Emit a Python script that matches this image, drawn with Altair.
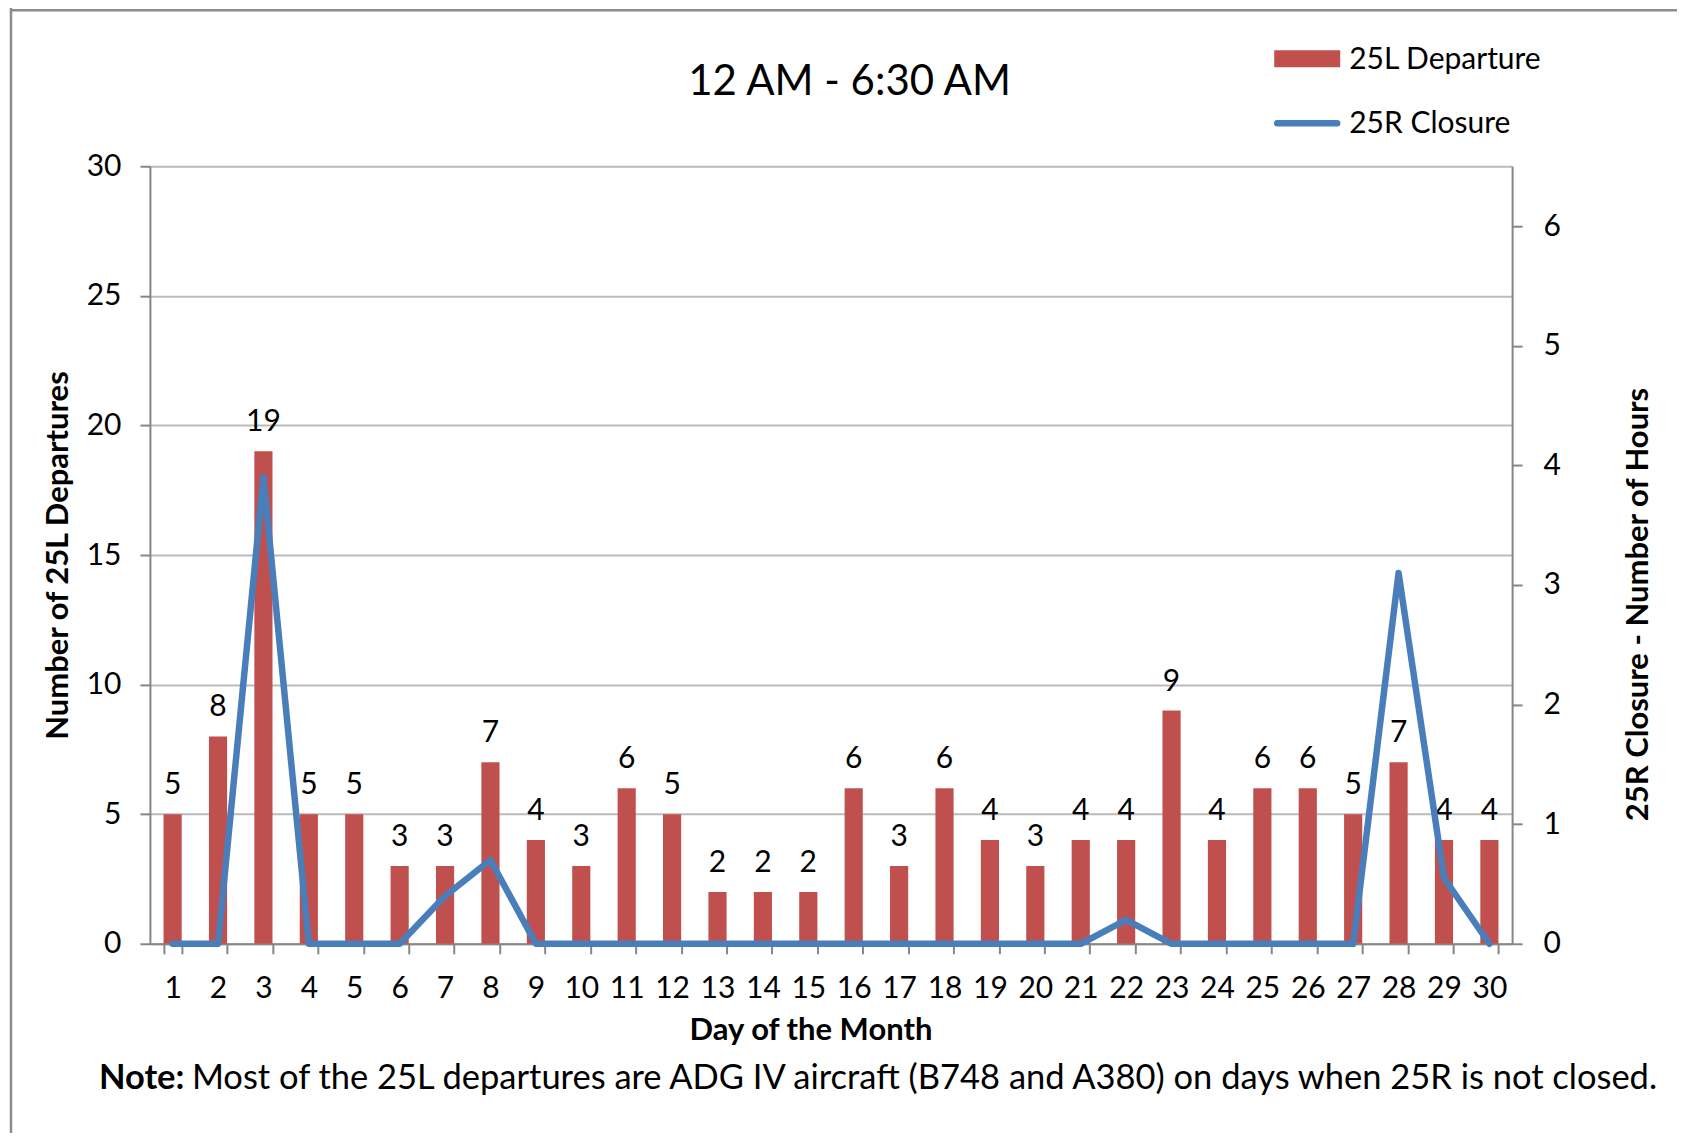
import altair as alt
import pandas as pd

# ---- data ----
days = list(range(1, 31))
departures = [5, 8, 19, 5, 5, 3, 3, 7, 4, 3, 6, 5, 2, 2, 2, 6, 3, 6, 4, 3,
              4, 4, 9, 4, 6, 6, 5, 7, 4, 4]
closure_hours = [0, 0, 3.9, 0, 0, 0, 0.4, 0.7, 0, 0, 0, 0, 0, 0, 0, 0, 0, 0,
                 0, 0, 0, 0.2, 0, 0, 0, 0, 0, 3.1, 0.55, 0]
left_ticks = [0, 5, 10, 15, 20, 25, 30]
right_ticks = [0, 1, 2, 3, 4, 5, 6]

chart_title = "12 AM - 6:30 AM"
x_title = "Day of the Month"
y_left_title = "Number of 25L Departures"
y_right_title = "25R Closure - Number of Hours"
legend_labels = ["25L Departure", "25R Closure"]
note_bold = "Note:"
note_text = "Most of the 25L departures are ADG IV aircraft (B748 and A380) on days when 25R is not closed."

df = pd.DataFrame({"day": days, "dep": departures, "hrs": closure_hours})

W, H = 1363, 778
BAR = "#C0504D"
LINE = "#4A7EBB"
AXIS = "#868686"
GRID = "#BBBBBB"
FONT = "Lato"

one = alt.Data(values=[{"k": 0}])

x_enc = alt.X(
    "day:O",
    scale=alt.Scale(paddingInner=0.6, paddingOuter=0.3),
    axis=alt.Axis(
        title=x_title, labelAngle=0, tickBand="extent", grid=False,
        domainColor=AXIS, domainWidth=2, tickColor=AXIS, tickWidth=2, tickSize=10,
        labelFontSize=30, labelPadding=20, labelColor="black", labelFont=FONT,
        titleFontSize=31, titleFontWeight="bold", titleFont=FONT, titleColor="black",
        titleX=661, titleY=87, titleAlign="center", titleBaseline="middle", titleAnchor="start",
    ),
)

bars = alt.Chart(df).mark_bar(color=BAR).encode(
    x=x_enc,
    y=alt.Y(
        "dep:Q",
        scale=alt.Scale(domain=[0, 30], nice=False),
        axis=alt.Axis(
            values=left_ticks, orient="left", grid=True, gridColor=GRID, gridWidth=2,
            domainColor=AXIS, domainWidth=2, tickColor=AXIS, tickWidth=2, tickSize=10,
            labelFontSize=30, labelPadding=19, labelColor="black", labelFont=FONT,
            title=y_left_title, titleFontSize=31, titleFontWeight="bold", titleFont=FONT,
            titleColor="black", titleAngle=270, titleX=-91, titleY=389,
            titleAlign="center", titleBaseline="middle",
        ),
    ),
)

labels = alt.Chart(df).mark_text(
    dy=-29, baseline="middle", fontSize=30, font=FONT, color="black"
).encode(x=alt.X("day:O"), y=alt.Y("dep:Q"), text=alt.Text("dep:Q"))

left_layer = alt.layer(bars, labels)

line = alt.Chart(df).mark_line(
    color=LINE, strokeWidth=6.5, strokeCap="round", strokeJoin="round"
).encode(
    x=alt.X("day:O"),
    y=alt.Y(
        "hrs:Q",
        scale=alt.Scale(domain=[0, 6.5], nice=False),
        axis=alt.Axis(
            values=right_ticks, orient="right", grid=False,
            domainColor=AXIS, domainWidth=2, tickColor=AXIS, tickWidth=2, tickSize=10,
            labelFontSize=30, labelPadding=21, labelColor="black", labelFont=FONT,
            title=y_right_title, titleFontSize=31, titleFontWeight="bold", titleFont=FONT,
            titleColor="black", titleAngle=270, titleX=126, titleY=438,
            titleAlign="center", titleBaseline="middle",
        ),
    ),
)

title_mark = alt.Chart(one).mark_text(
    fontSize=42, font=FONT, color="black", align="center", baseline="middle"
).encode(x=alt.value(700), y=alt.value(-84), text=alt.value(chart_title))

leg_rect = alt.Chart(one).mark_rect(color=BAR).encode(
    x=alt.value(1125), x2=alt.value(1191), y=alt.value(-116), y2=alt.value(-99)
)
leg_line = alt.Chart(one).mark_rule(color=LINE, strokeWidth=6.5, strokeCap="round").encode(
    x=alt.value(1128), x2=alt.value(1188), y=alt.value(-43)
)
leg_t1 = alt.Chart(one).mark_text(
    fontSize=30, font=FONT, color="black", align="left", baseline="middle"
).encode(x=alt.value(1200), y=alt.value(-106), text=alt.value(legend_labels[0]))
leg_t2 = alt.Chart(one).mark_text(
    fontSize=30, font=FONT, color="black", align="left", baseline="middle"
).encode(x=alt.value(1200), y=alt.value(-42), text=alt.value(legend_labels[1]))

note1 = alt.Chart(one).mark_text(
    fontSize=34.5, font=FONT, fontWeight="bold", color="black", align="left", baseline="middle"
).encode(x=alt.value(-51), y=alt.value(913), text=alt.value(note_bold))
note2 = alt.Chart(one).mark_text(
    fontSize=34.5, font=FONT, color="black", align="left", baseline="middle"
).encode(x=alt.value(42), y=alt.value(913), text=alt.value(note_text))

frame_left = alt.Chart(one).mark_rule(color="#8C8C8C", strokeWidth=2.5).encode(
    x=alt.value(-139), y=alt.value(-160), y2=alt.value(975)
)
frame_top = alt.Chart(one).mark_rule(color="#8C8C8C", strokeWidth=2.5).encode(
    x=alt.value(-140), x2=alt.value(1540), y=alt.value(-156)
)

chart = alt.layer(
    left_layer, line, title_mark, leg_rect, leg_line, leg_t1, leg_t2, note1, note2,
    frame_left, frame_top,
).resolve_scale(y="independent").properties(
    width=W, height=H,
    autosize=alt.AutoSizeParams(type="none"),
    padding={"left": 142, "top": 158, "right": 165, "bottom": 189},
).configure_view(stroke=None).configure(font=FONT, background="white")

chart.save("out.html", embed_options={"renderer": "svg", "actions": False})
